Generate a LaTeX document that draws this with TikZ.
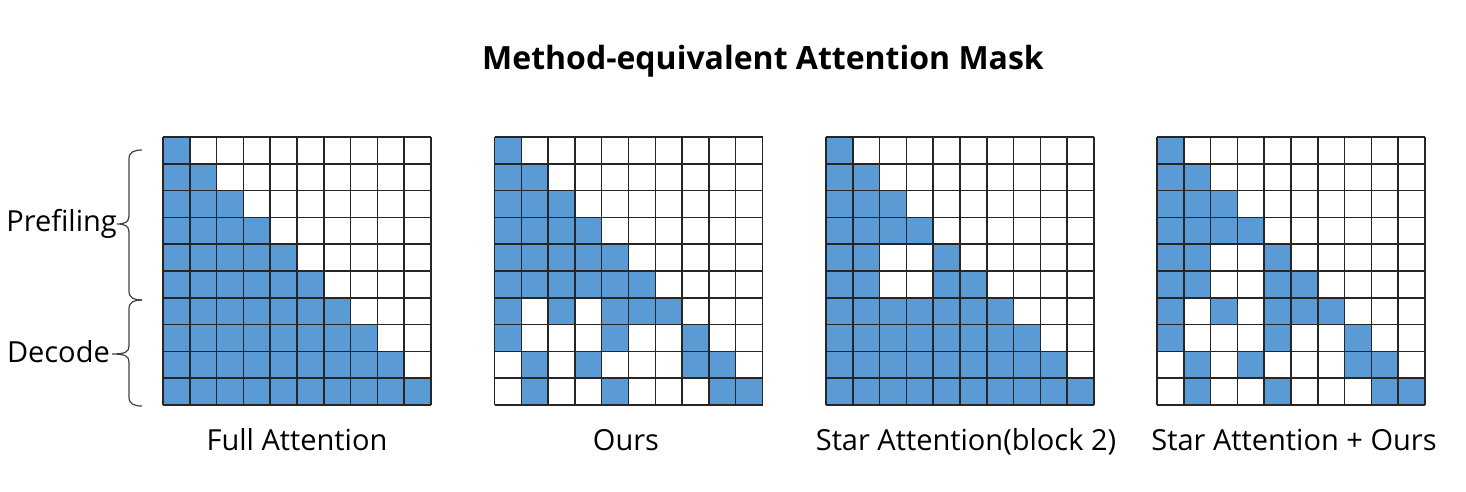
\documentclass[tikz,border=0pt]{standalone}
\usepackage{fontspec}
\setmainfont{Open Sans}
\definecolor{cellblue}{HTML}{5B9BD5}
\definecolor{bracegray}{HTML}{404040}
\newcommand\cellsz{26.8}
\newcommand\gtop{137}
\newcommand\maskcells[2]{%
  \foreach \r/\c in {#2} {\fill[cellfill] ({#1+\c*\cellsz},{\gtop+\r*\cellsz}) rectangle ++(\cellsz,\cellsz);}}
\newcommand\trirows[3]{% x0, first row, last row
  \foreach \r in {#2,...,#3} {\foreach \c in {0,...,\r} {\fill[cellfill] ({#1+\c*\cellsz},{\gtop+\r*\cellsz}) rectangle ++(\cellsz,\cellsz);}}}
\newcommand\gridlines[1]{%
  \foreach \i in {0,...,10} {%
    \draw[gridline] ({#1+\i*\cellsz},\gtop) -- ++(0,{10*\cellsz});
    \draw[gridline] (#1,{\gtop+\i*\cellsz}) -- ++({10*\cellsz},0);}}
\newcommand\bracepath[4]{% top y, bottom y, mid y, tip x
  \draw[bracestyle] (142,#1) .. controls (134,#1) and (129,#1+2) .. (129,#1+9)
    -- (129,#3-8) .. controls (129,#3-2) and (125,#3) .. (#4,#3)
    (129,#3+8) .. controls (129,#3+2) and (125,#3) .. (#4,#3)
    (129,#3+8) -- (129,#2-9) .. controls (129,#2-2) and (134,#2) .. (142,#2);}
\begin{document}
\begin{tikzpicture}[x=1pt,y=-1pt,
  cellfill/.style={fill=cellblue},
  gridline/.style={line width=1.5pt, draw=black!85, line cap=square},
  bracestyle/.style={line width=1.2pt, draw=bracegray},
  lab/.style={font=\fontsize{29}{34}\selectfont, inner sep=0pt},
  ttl/.style={font=\fontsize{32}{38}\selectfont\bfseries, inner sep=0pt}]
\useasboundingbox (0,0) rectangle (1466,491);
% grid 1: full attention
\trirows{163}{0}{9}
\gridlines{163}
% grid 2: ours
\trirows{494.5}{0}{5}
\maskcells{494.5}{6/0,6/2,6/4,6/5,6/6,7/0,7/4,7/7,8/1,8/3,8/7,8/8,9/1,9/4,9/8,9/9}
\gridlines{494.5}
% grid 3: star attention
\trirows{826}{0}{3}
\maskcells{826}{4/0,4/1,4/4,5/0,5/1,5/4,5/5}
\trirows{826}{6}{9}
\gridlines{826}
% grid 4: star attention + ours
\trirows{1157}{0}{3}
\maskcells{1157}{4/0,4/1,4/4,5/0,5/1,5/4,5/5,6/0,6/2,6/4,6/5,6/6,7/0,7/4,7/7,8/1,8/3,8/7,8/8,9/1,9/4,9/8,9/9}
\gridlines{1157}
% braces
\bracepath{150}{300}{224}{117}
\bracepath{300}{406}{354}{112}
% labels
\node[ttl, anchor=base] (title) at (763,69) {Method-equivalent Attention Mask};
\node[lab, anchor=base east] (lpre) at (117,231) {Prefiling};
\node[lab, anchor=base east] (ldec) at (110,362) {Decode};
\node[lab, anchor=base] (lfull) at (297,450) {Full Attention};
\node[lab, anchor=base] (lours) at (626,450) {Ours};
\node[lab, anchor=base] (lstar) at (966,450) {Star Attention(block 2)};
\node[lab, anchor=base] (lstarours) at (1294,450) {Star Attention + Ours};
\end{tikzpicture}
\end{document}
